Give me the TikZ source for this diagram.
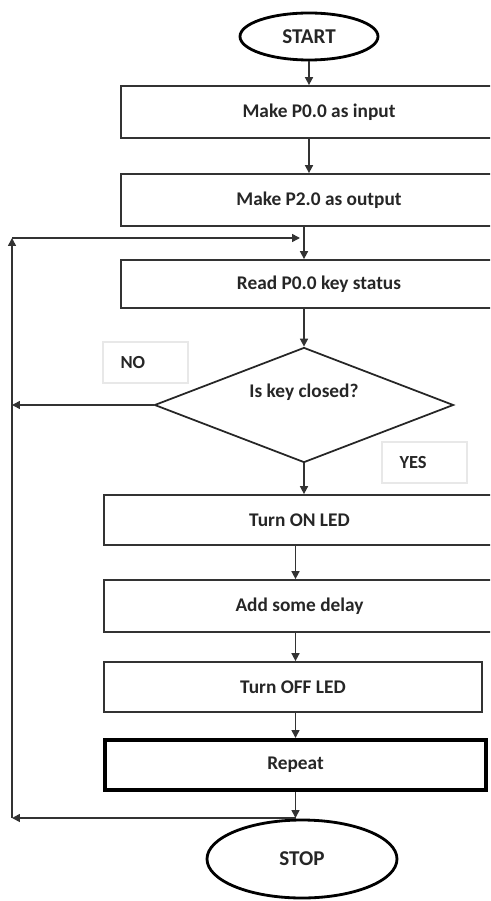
\documentclass[tikz,border=0pt]{standalone}
\usepackage{fontspec}
\setmainfont{Carlito}
\usepackage{tikz}
\usetikzlibrary{shapes.geometric, arrows.meta, positioning, calc}
\tikzset{
  procbox/.style={
    draw=black!80, line width=1pt, align=center,
    font=\bfseries\fontsize{11}{13}\selectfont, text=black!85,
    minimum height=1cm, inner sep=0pt
  },
  termnode/.style={
    ellipse, draw=black, line width=1.6pt, align=center,
    font=\bfseries\fontsize{12}{14}\selectfont, text=black!85, inner sep=0pt
  },
  decisionnode/.style={
    diamond, draw=black!85, line width=1pt, align=center,
    font=\bfseries\fontsize{11}{13}\selectfont, text=black!85, inner sep=0pt
  },
  tagbox/.style={
    draw=gray!18, line width=0.6pt, align=left,
    font=\bfseries\fontsize{10.5}{12}\selectfont, text=black!85,
    minimum width=1.7cm, minimum height=0.82cm, text width=1.0cm
  },
  flowarrow/.style={
    -{Triangle[length=4.5pt,width=4.5pt]}, line width=0.9pt, color=black!80
  },
}
\begin{document}
\begin{tikzpicture}
  \useasboundingbox (0,0) rectangle (9.8,-18.02);
  \clip (0,0) rectangle (9.8,-18.02);

  % Terminals
  \node[termnode, minimum width=2.76cm, minimum height=0.94cm]
    (start) at (6.18,-0.73) {START};
  \node[termnode, minimum width=3.8cm, minimum height=1.56cm]
    (stop) at (6.04,-17.18) {STOP};

  % Set up the ports
  \node[procbox, minimum width=7.92cm, minimum height=1.04cm]
    (setin) at (6.38,-2.24) {Make P0.0 as input};
  \node[procbox, minimum width=7.92cm, minimum height=1.04cm]
    (setout) at (6.38,-4.0) {Make P2.0 as output};
  \node[procbox, minimum width=7.92cm, minimum height=0.96cm]
    (readkey) at (6.38,-5.68) {Read P0.0 key status};

  % Decision
  \node[decisionnode, minimum width=5.98cm, minimum height=2.3cm]
    (keyq) at (6.08,-8.1) {\raisebox{4pt}[0pt][0pt]{Is key closed?}};
  \node[tagbox, inner xsep=0.34cm] (nolbl) at (2.91,-7.25) {NO};
  \node[tagbox, inner xsep=0.28cm] (yeslbl) at (8.49,-9.25) {YES};

  % LED sequence
  \node[procbox, minimum width=7.82cm] (ledon) at (5.99,-10.4) {Turn ON LED};
  \node[procbox, minimum width=7.82cm, minimum height=1.04cm]
    (delay) at (5.99,-12.12) {Add some delay};
  \node[procbox, minimum width=7.56cm] (ledoff) at (5.86,-13.74) {Turn OFF LED};
  \node[procbox, draw=black, line width=2.3pt, minimum width=7.62cm]
    (rep) at (5.91,-15.3) {Repeat};

  % Loop corners
  \coordinate (jtop) at (0.24,-4.76);
  \coordinate (jbot) at (0.24,-16.36);
  \coordinate (jin) at (6.0,-4.76);

  % Main flow
  \draw[flowarrow] (start.south) -- (start.south |- setin.north);
  \draw[flowarrow] (start.south |- setin.south) -- (start.south |- setout.north);
  \draw[flowarrow] (keyq.north |- setout.south) -- (keyq.north |- readkey.north);
  \draw[flowarrow] (keyq.north |- readkey.south) -- (keyq.north);
  \draw[flowarrow] (keyq.south) -- (keyq.south |- ledon.north);
  \draw[flowarrow] (rep.north |- ledon.south) -- (rep.north |- delay.north);
  \draw[flowarrow] (rep.north |- delay.south) -- (rep.north |- ledoff.north);
  \draw[flowarrow] (rep.north |- ledoff.south) -- (rep.north);
  \draw[flowarrow] (rep.south) -- (rep.south |- jbot);

  % Back loops
  \draw[flowarrow] (keyq.west) -- (keyq.west -| jtop);
  \draw[flowarrow] (rep.south |- jbot) -- (jbot);
  \draw[flowarrow] (jbot) -- (jtop);
  \draw[flowarrow] (jtop) -- (jin);
\end{tikzpicture}
\end{document}
